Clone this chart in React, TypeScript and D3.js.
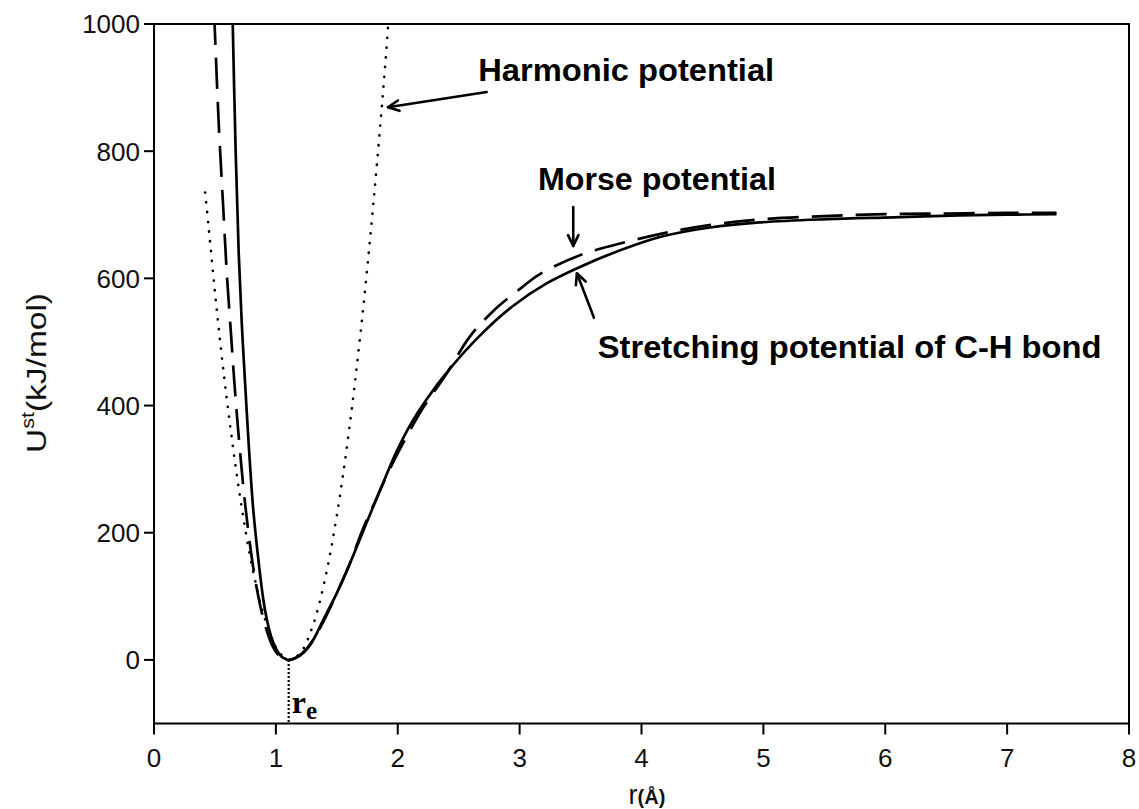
import React from "react";
import * as d3 from "d3";

// ---- data (r in Å, U in kJ/mol) ----
const xTicks = [0, 1, 2, 3, 4, 5, 6, 7, 8];
const yTicks = [0, 200, 400, 600, 800, 1000];

const stretchR = [0.628, 0.646, 0.67, 0.695, 0.72, 0.746, 0.78, 0.815, 0.861, 0.897, 0.93, 0.966, 1.005, 1.048, 1.08, 1.105,
  1.15, 1.2, 1.26, 1.32, 1.389, 1.5, 1.608, 1.7, 1.786, 1.89, 1.991, 2.11, 2.237, 2.428, 2.674, 2.948, 3.221, 3.495, 3.741,
  4.151, 4.561, 4.971, 5.518, 6.065, 6.612, 7.0, 7.405];
const stretchU = [1150, 1000, 800, 640, 530, 440, 330, 235, 150, 95, 60, 34, 16, 5, 1.5, 0,
  2, 7, 18, 36, 63, 105, 152, 195, 235, 283, 328, 372, 410, 458, 510, 557, 592, 618, 638,
  665, 680, 688, 693, 696, 699, 700, 701];

const morseR = [0.48, 0.497, 0.532, 0.567, 0.599, 0.632, 0.66, 0.692, 0.746, 0.79, 0.822, 0.872, 0.922, 0.972, 1.035, 1.105,
  1.17, 1.25, 1.32, 1.41, 1.54, 1.6, 1.71, 1.8, 1.91, 2.0, 2.2, 2.4, 2.59, 2.78, 3.0, 3.16, 3.49, 3.87, 4.23, 4.6, 5.0,
  5.5, 6.0, 6.5, 7.0, 7.405];
const morseU = [1085, 1000, 840, 715, 603, 512, 435, 358, 248, 178, 136, 85, 48, 22, 5, 0,
  4, 17, 36, 68, 122, 148, 204, 243, 290, 325, 394, 450, 508, 548, 583, 606, 636, 657, 673, 685, 693,
  698, 701, 702, 703, 703];

const harmR = [0.42, 0.45, 0.5, 0.55, 0.6, 0.7, 0.8, 0.9, 1.0, 1.105, 1.2, 1.3, 1.4, 1.5, 1.6, 1.7, 1.8, 1.9, 1.95];
const harmU = [735, 677, 579, 488, 406, 264, 152, 71, 20, 0, 11, 52, 124, 227, 360, 524, 718, 943, 1080];

const rEq = 1.105;

// annotation anchors in data space
const harmonicLabel = { r: 2.66, u: 910, text: "Harmonic potential", len: 296 };
const morseLabel = { r: 3.15, u: 739, text: "Morse potential", len: 238 };
const stretchLabel = { r: 3.64, u: 475, text: "Stretching potential of C-H bond", len: 504 };
const harmonicArrow = { from: [2.73, 893], to: [1.92, 869] };
const morseArrow = { from: [3.44, 712], to: [3.44, 651] };
const stretchArrow = { from: [3.61, 538], to: [3.47, 608] };

const W = 1139;
const H = 809;

export default function App() {
  const x = d3.scaleLinear().domain([0, 8]).range([154, 1129]);
  const y = d3.scaleLinear().domain([-100, 1000]).range([723.5, 24]);
  const [x0, x1] = x.range();
  const [yb, yt] = y.range();

  const mk = (rs: number[], us: number[]) =>
    d3
      .line<[number, number]>()
      .x((d) => x(d[0]))
      .y((d) => y(d[1]))
      .curve(d3.curveCatmullRom.alpha(0.5))(rs.map((r, i) => [r, us[i]] as [number, number])) || "";

  const stretchPath = mk(stretchR, stretchU);
  const morsePath = mk(morseR, morseU);
  const harmPath = mk(harmR, harmU);

  const arrow = (a: { from: number[]; to: number[] }) => {
    const fx = x(a.from[0]), fy = y(a.from[1]);
    const tx = x(a.to[0]), ty = y(a.to[1]);
    const ang = Math.atan2(ty - fy, tx - fx);
    const hl = 12, ha = 0.45;
    const p1 = [tx - hl * Math.cos(ang - ha), ty - hl * Math.sin(ang - ha)];
    const p2 = [tx - hl * Math.cos(ang + ha), ty - hl * Math.sin(ang + ha)];
    return (
      <g stroke="#000" strokeWidth={2.6} fill="none" strokeLinecap="round" strokeLinejoin="round">
        <line x1={fx} y1={fy} x2={tx} y2={ty} />
        <path d={`M${p1[0]},${p1[1]}L${tx},${ty}L${p2[0]},${p2[1]}`} />
      </g>
    );
  };

  const font = "'Liberation Sans', Arial, sans-serif";

  return (
    <svg width={W} height={H} style={{ position: "absolute", left: 0, top: 0, background: "#fff" }} fontFamily={font}>
      <defs>
        <clipPath id="plot">
          <rect x={x0} y={yt} width={x1 - x0} height={yb - yt} />
        </clipPath>
      </defs>
      <rect width={W} height={H} fill="#fff" />

      <g clipPath="url(#plot)" fill="none" stroke="#000">
        <path d={harmPath} strokeWidth={2.6} strokeDasharray="0.2 9.6" strokeLinecap="round" />
        <path d={morsePath} strokeWidth={2.7} strokeDasharray="31 13" />
        <path d={stretchPath} strokeWidth={2.7} />
        <line x1={x(rEq)} x2={x(rEq)} y1={y(0)} y2={yb} strokeWidth={2.2} strokeDasharray="2 2" />
      </g>

      {/* frame */}
      <rect x={x0} y={yt} width={x1 - x0} height={yb - yt} fill="none" stroke="#000" strokeWidth={2} />

      {/* y axis ticks */}
      {yTicks.map((t) => (
        <g key={"y" + t}>
          <line x1={x0 - 10} x2={x0} y1={y(t)} y2={y(t)} stroke="#000" strokeWidth={2} />
          <text x={x0 - 14} y={y(t)} dy="0.36em" textAnchor="end" fontSize={26} fill="#111">
            {t}
          </text>
        </g>
      ))}
      {/* x axis ticks */}
      {xTicks.map((t) => (
        <g key={"x" + t}>
          <line x1={x(t)} x2={x(t)} y1={yb} y2={yb + 11} stroke="#000" strokeWidth={2} />
          <text x={x(t)} y={767} textAnchor="middle" fontSize={26} fill="#111">
            {t}
          </text>
        </g>
      ))}

      {/* axis titles */}
      <text transform={`translate(46,373) rotate(-90)`} textAnchor="middle" fontSize={28} fill="#111" textLength={160} lengthAdjust="spacingAndGlyphs">
        U<tspan fontSize={18} dy={-12}>st</tspan>
        <tspan dy={12}>(kJ/mol)</tspan>
      </text>
      <text x={647} y={804} textAnchor="middle" fill="#111">
        <tspan fontSize={27}>r</tspan>
        <tspan fontSize={20} fontWeight="bold">(Å)</tspan>
      </text>

      {/* r_e label */}
      <text x={x(rEq) + 3} y={713} fontFamily="'Liberation Serif', 'Times New Roman', serif" fontWeight="bold" fill="#000">
        <tspan fontSize={32}>r</tspan>
        <tspan fontSize={25} dy={6}>e</tspan>
      </text>

      {/* annotations */}
      {[harmonicLabel, morseLabel, stretchLabel].map((l) => (
        <text key={l.text} x={x(l.r)} y={y(l.u)} fontSize={32} fontWeight="bold" fill="#000" textLength={l.len} lengthAdjust="spacingAndGlyphs">
          {l.text}
        </text>
      ))}
      {arrow(harmonicArrow)}
      {arrow(morseArrow)}
      {arrow(stretchArrow)}
    </svg>
  );
}
